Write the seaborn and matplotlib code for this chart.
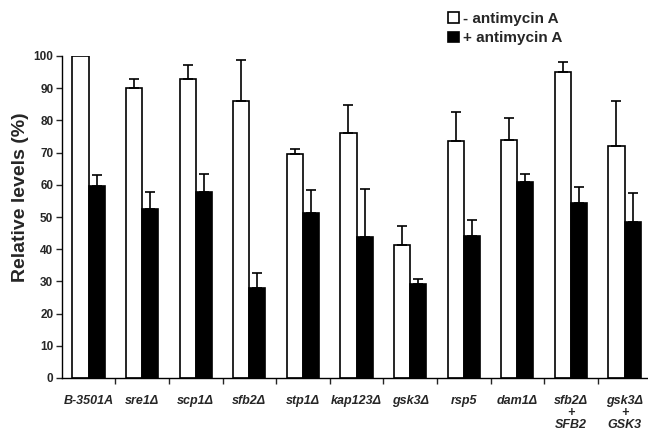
import numpy as np
import pandas as pd
import matplotlib
matplotlib.use("Agg")
import matplotlib.pyplot as plt
import seaborn as sns
from matplotlib.patches import Patch

strains = ["B-3501A", "sre1Δ", "scp1Δ", "sfb2Δ", "stp1Δ", "kap123Δ", "gsk3Δ",
           "rsp5", "dam1Δ", "sfb2Δ\n+\nSFB2", "gsk3Δ\n+\nGSK3"]
conditions = ["- antimycin A", "+ antimycin A"]
minus_vals = [100, 90.2, 92.8, 86.0, 69.6, 76.0, 41.3, 73.5, 74.0, 95.1, 71.9]
minus_err = [0, 2.7, 4.5, 12.8, 1.5, 8.7, 6.0, 9.1, 6.7, 3.1, 14.0]
plus_vals = [59.7, 52.5, 57.9, 27.8, 51.3, 43.7, 29.1, 44.2, 60.9, 54.2, 48.4]
plus_err = [3.3, 5.4, 5.5, 4.7, 7.1, 15.0, 1.7, 4.9, 2.5, 5.1, 9.1]
yticks = list(range(0, 101, 10))

df = pd.DataFrame({
    "strain": strains * 2,
    "condition": [conditions[0]] * len(strains) + [conditions[1]] * len(strains),
    "value": minus_vals + plus_vals,
})

sns.set_style("ticks")
plt.rcParams["font.family"] = ["Liberation Sans", "DejaVu Sans"]
plt.rcParams["font.weight"] = "bold"

fig = plt.figure(figsize=(6.48, 4.34), dpi=100)
ax = fig.add_axes([61.7 / 648, 56 / 434, (648 - 61.7) / 648, 322 / 434])

sns.barplot(data=df, x="strain", y="value", hue="condition", order=strains,
            hue_order=conditions, palette=["white", "black"], edgecolor="black",
            linewidth=1.2, width=0.6, gap=0, errorbar=None, legend=False, ax=ax)

for cont, errs in zip(ax.containers, [minus_err, plus_err]):
    xs, ys, es = [], [], []
    for bar, e in zip(cont, errs):
        if e > 0:
            xs.append(bar.get_x() + bar.get_width() / 2)
            ys.append(bar.get_height())
            es.append(e)
    ax.errorbar(xs, ys, yerr=[np.zeros(len(es)), es], fmt="none", ecolor="black",
                elinewidth=1.2, capsize=3.6, capthick=1.2, zorder=3)

ax.set_xlim(-0.5, -0.5 + (648 - 61.7) / 53.6)
ax.set_ylim(0, 100)
ax.set_yticks(yticks)
ax.set_yticklabels([str(t) for t in yticks], fontsize=8.5, fontweight="bold")
ax.set_xticks(range(len(strains)))
ax.set_xticklabels(strains, fontsize=9, fontweight="bold", style="italic",
                   linespacing=1.0)
ax.set_xticks([i + 0.5 for i in range(len(strains) - 1)], minor=True)
ax.tick_params(axis="x", which="major", length=0, pad=12)
ax.tick_params(axis="x", which="minor", length=4, width=1, direction="out")
ax.tick_params(axis="y", length=4, width=1, direction="out", pad=2)
ax.set_xlabel("")
ax.set_ylabel("Relative levels (%)", fontsize=14, fontweight="bold")
ax.yaxis.set_label_coords(-0.055, 0.56)
sns.despine(ax=ax)
for s in ["left", "bottom"]:
    ax.spines[s].set_linewidth(1.0)
    ax.spines[s].set_color("black")

handles = [Patch(facecolor="white", edgecolor="black", linewidth=1.2),
           Patch(facecolor="black", edgecolor="black", linewidth=1.2)]
fig.legend(handles, conditions, loc="upper left", bbox_to_anchor=(448 / 648, 1 - 12 / 434),
           frameon=False, prop={"weight": "bold", "size": 11},
           handlelength=0.7, handleheight=0.7, handletextpad=0.3, labelspacing=0.35,
           borderaxespad=0, borderpad=0)

fig.savefig("out.png", dpi=100)
